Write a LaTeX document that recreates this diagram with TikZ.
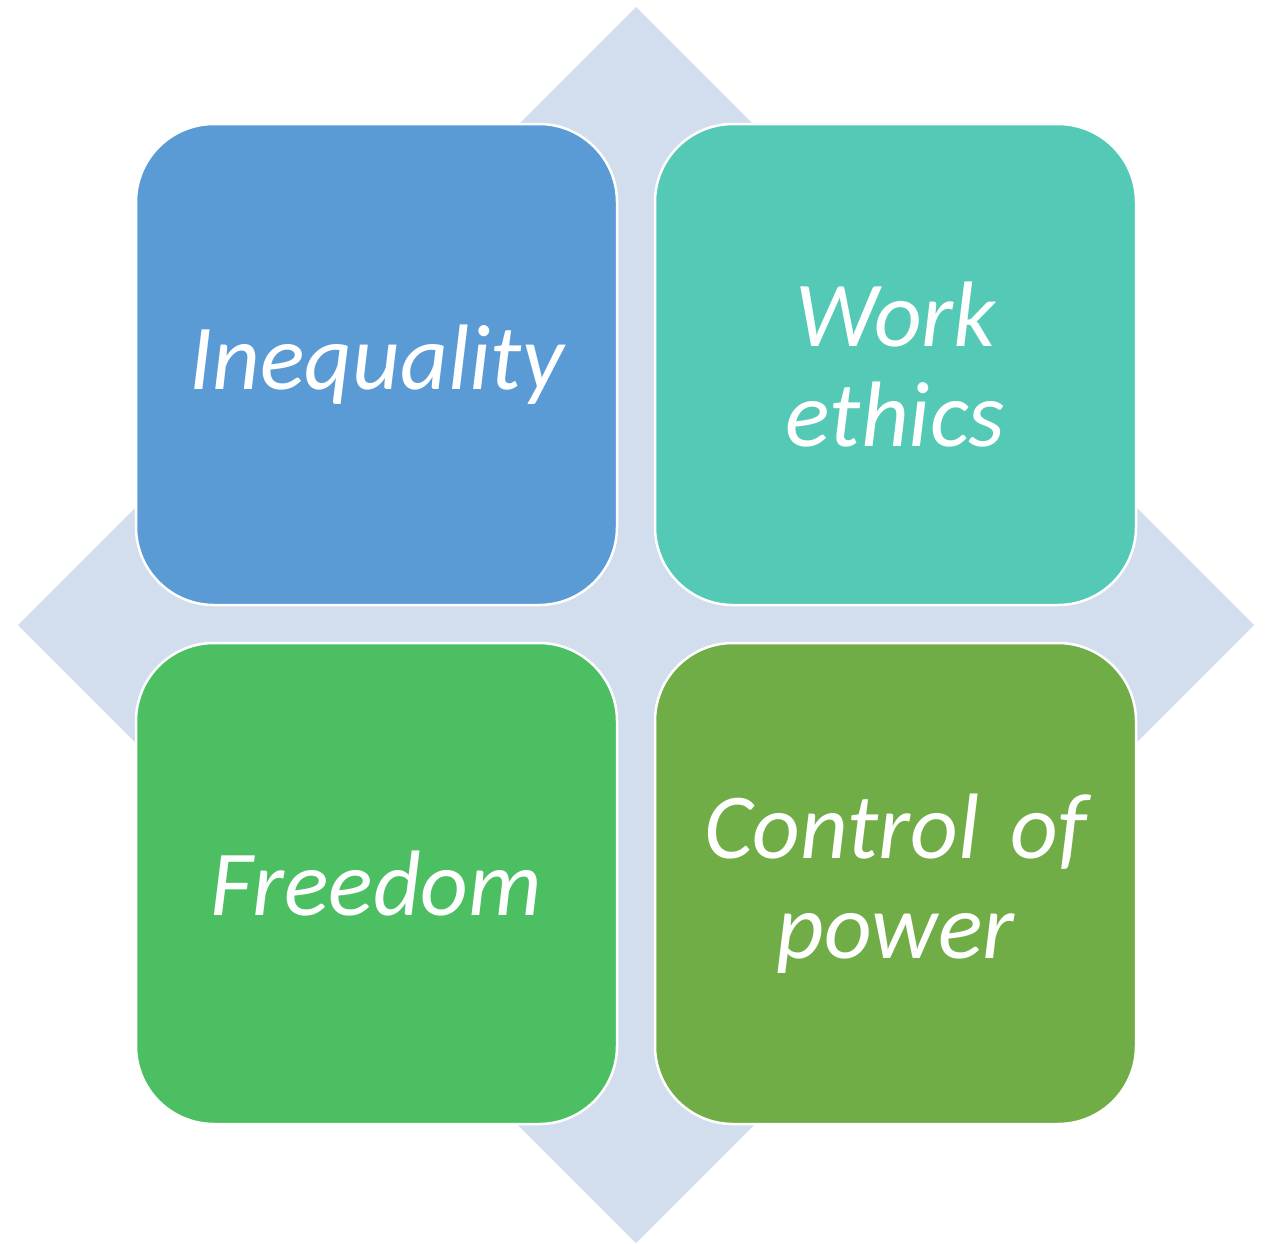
\documentclass[tikz,border=0pt]{standalone}
\usepackage{fontspec}
\setmainfont{Carlito}
\definecolor{diamondc}{HTML}{D2DDEE}
\definecolor{cIneq}{HTML}{5B9BD5}
\definecolor{cWork}{HTML}{53C9B6}
\definecolor{cFree}{HTML}{4BBF62}
\definecolor{cCtrl}{HTML}{70AD47}
\begin{document}
\begin{tikzpicture}[x=1pt,y=-1pt,
  box/.style={draw=white,line width=2.5pt,rounded corners=78pt,minimum width=481pt,minimum height=481pt,
    inner sep=0pt,text=white,align=center,text width=470pt,
    font=\fontsize{93pt}{100pt}\selectfont\itshape}]
\useasboundingbox (0,0) rectangle (1269,1243);
\fill[diamondc] (636,7) coordinate (dt) -- (1254,625) coordinate (dr) -- (636,1243) coordinate (db) -- (18,625) coordinate (dl) -- cycle;
\node[box,fill=cIneq] (ineq) at (376.5,364.5) {Inequality};
\node[box,fill=cWork] (work) at (895.5,364.5) {Work\\ethics};
\node[box,fill=cFree] (free) at (376.5,883.5) {Freedom};
\node[box,fill=cCtrl] (ctrl) at (895.5,883.5) {Control of\\power};
\end{tikzpicture}
\end{document}
